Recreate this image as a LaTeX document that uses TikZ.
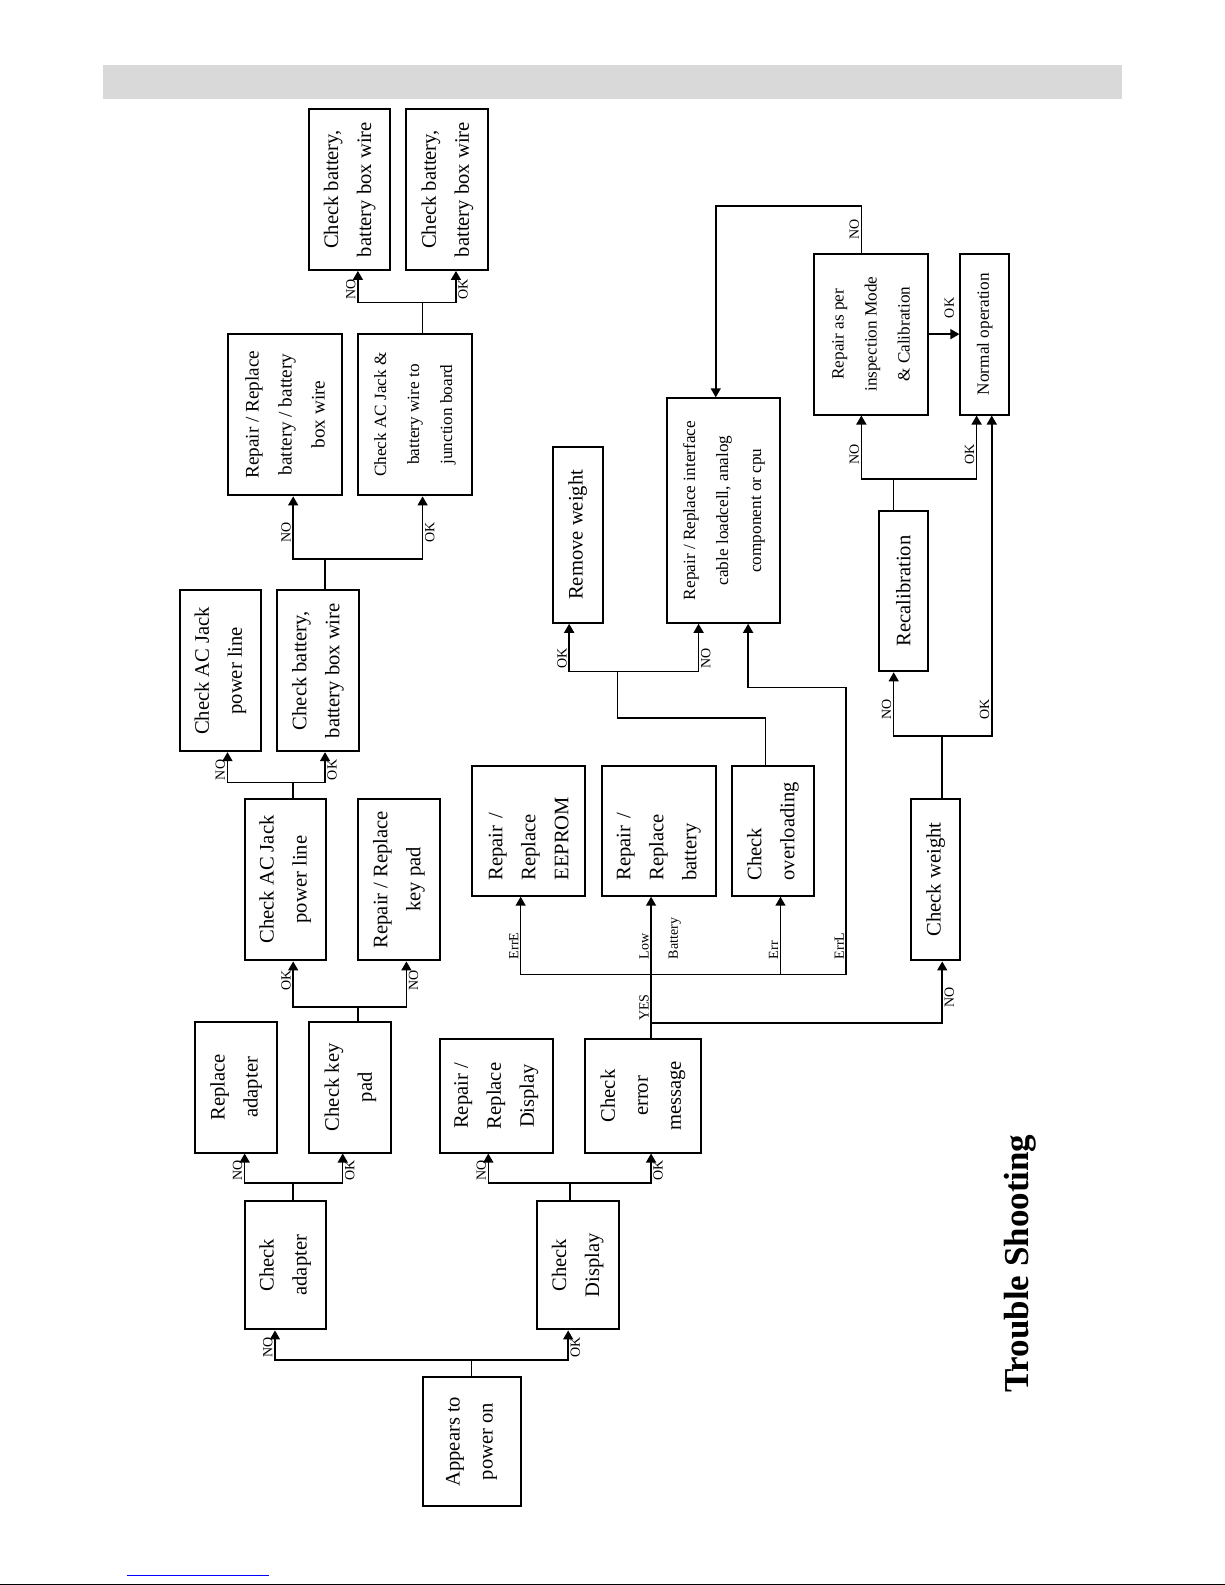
\documentclass[tikz,border=0pt]{standalone}
\usepackage{fontspec}
\setmainfont{Liberation Serif}
\usetikzlibrary{arrows.meta}
\newdimen\pxu
\pxu=0.5055pt

\begin{document}
\begin{tikzpicture}[x=\pxu, y=-\pxu,
    box/.style={draw, line width=1pt, rotate=90, inner sep=0pt, align=center,
      font=\fontsize{10.3}{16.5}\selectfont},
    bsize/.style 2 args={minimum width=#1\pxu, minimum height=#2\pxu},
    mid/.style={font=\fontsize{9.6}{16.5}\selectfont},
    small/.style={font=\fontsize{8.6}{16.5}\selectfont},
    flush/.style={align=left, text width=#1\pxu},
    link/.style={line width=0.75pt},
    arr/.style={link, -{Triangle[length=4.5pt, width=5pt]}},
    tag/.style={rotate=90, inner sep=1pt, font=\fontsize{7}{8}\selectfont}]

  \useasboundingbox (0,0) rectangle (1211.7,1567.8);
  \fill[gray!30] (102,64.5) rectangle (1110,97.5);
  \draw[blue, line width=0.5pt] (125.6,1558) -- (266,1558);
  \draw[line width=0.5pt] (0,1567) -- (1211.7,1567);

  \node[rotate=90, anchor=base, font=\fontsize{17.5}{20}\selectfont\bfseries] (title) at (1017,1250) {Trouble Shooting};

  \node[box, bsize={128}{97}] (pwr) at (466.5,1426) {Appears to\\power on};
  \node[box, bsize={127}{80}] (chkad) at (282,1251.5) {Check\\adapter};
  \node[box, bsize={127}{81}] (chkdisp) at (571.5,1251.5) {Check\\Display};
  \node[box, bsize={129}{81}] (repad) at (233.5,1075.5) {Replace\\adapter};
  \node[box, bsize={129}{81}] (chkkey) at (346.5,1075.5) {Check key\\pad};
  \node[box, bsize={112}{112}] (repdisp) at (491,1084) {Repair /\\Replace\\Display};
  \node[box, bsize={112}{114}] (chkerr) at (636,1084) {Check\\error\\message};
  \node[box, bsize={160}{80}] (chkac1) at (282,870) {Check AC Jack\\power line};
  \node[box, bsize={160}{81}] (repkey) at (394.5,870) {Repair / Replace\\key pad};
  \node[box, bsize={159}{80}] (chkac2) at (218,663.5) {Check AC Jack\\power line};
  \node[box, bsize={159}{81}] (chkbat1) at (314.5,663.5) {Check battery,\\battery box wire};
  \node[box, mid, bsize={160}{112}] (repbat) at (282,410) {Repair / Replace\\battery / battery\\box wire};
  \node[box, small, bsize={160}{113}] (chkjb) at (410.5,410) {Check AC Jack \&\\battery wire to\\junction board};
  \node[box, bsize={159}{80}] (chkbat2) at (346,187.5) {Check battery,\\battery box wire};
  \node[box, bsize={159}{81}] (chkbat3) at (442.5,187.5) {Check battery,\\battery box wire};
  \node[box, flush=98, bsize={128}{112}] (reprom) at (523,822) {Repair /\\Replace\\EEPROM};
  \node[box, flush=98, bsize={128}{113}] (repbatt) at (651.5,822) {Repair /\\Replace\\battery};
  \node[box, flush=98, bsize={128}{81}] (chkovl) at (764.5,822) {Check\\overloading};
  \node[box, bsize={174}{49}] (remw) at (571.5,529) {Remove weight};
  \node[box, small, bsize={222}{112}] (repif) at (716,505) {Repair / Replace interface\\cable loadcell, analog\\component or cpu};
  \node[box, bsize={160}{49}] (chkw) at (925.5,870) {Check weight};
  \node[box, bsize={159}{49}] (recal) at (893.5,584.5) {Recalibration};
  \node[box, small, bsize={159}{113}] (repcal) at (861.5,330.5) {Repair as per\\inspection Mode\\\& Calibration};
  \node[box, small, bsize={159}{48}] (normal) at (974,330.5) {Normal operation};

  \coordinate (ja) at (466.5,1345);
  \coordinate (na) at (272,1345);
  \coordinate (oa) at (562,1345);
  \draw[arr] (pwr.east) -- (ja) -| (na |- chkad.west);
  \draw[arr] (ja) -| (oa |- chkdisp.west);
  \node[tag, anchor=south west] (ta1) at (na) {NO};
  \node[tag, anchor=north west] (ta2) at (oa) {OK};

  \coordinate (jb) at (290,1170);
  \coordinate (nb) at (242,1170);
  \coordinate (ob) at (339,1170);
  \draw[arr] (jb |- chkad.east) -- (jb) -| (nb |- repad.west);
  \draw[arr] (jb) -| (ob |- chkkey.west);
  \node[tag, anchor=south west] (tb1) at (nb) {NO};
  \node[tag, anchor=north west] (tb2) at (ob) {OK};

  \coordinate (jc) at (564,1170);
  \coordinate (nc) at (483,1170);
  \coordinate (oc) at (644,1170);
  \draw[arr] (jc |- chkdisp.east) -- (jc) -| (nc |- repdisp.west);
  \draw[arr] (jc) -| (oc |- chkerr.west);
  \node[tag, anchor=south west] (tc1) at (nc) {NO};
  \node[tag, anchor=north west] (tc2) at (oc) {OK};

  \coordinate (jd) at (354,996);
  \coordinate (od) at (290,996);
  \coordinate (nd) at (402,996);
  \draw[arr] (jd |- chkkey.east) -- (jd) -| (od |- chkac1.west);
  \draw[arr] (jd) -| (nd |- repkey.west);
  \node[tag, anchor=south west] (td1) at (290,982) {OK};
  \node[tag, anchor=north west] (td2) at (402,982) {NO};

  \coordinate (je) at (290,774);
  \coordinate (ne) at (225,774);
  \coordinate (oe) at (321.5,774);
  \draw[arr] (je |- chkac1.east) -- (je) -| (ne |- chkac2.west);
  \draw[arr] (je) -| (oe |- chkbat1.west);
  \node[tag, anchor=south west] (te1) at (ne) {NO};
  \node[tag, anchor=north west] (te2) at (oe) {OK};

  \coordinate (jf) at (321.5,553);
  \coordinate (nf) at (290,553);
  \coordinate (of) at (418,553);
  \draw[arr] (jf |- chkbat1.east) -- (jf) -| (nf |- repbat.west);
  \draw[arr] (jf) -| (of |- chkjb.west);
  \node[tag, anchor=south west] (tf1) at (290,539) {NO};
  \node[tag, anchor=north west] (tf2) at (418,539) {OK};

  \coordinate (jg) at (418,299);
  \coordinate (ng) at (354,299);
  \coordinate (og) at (451,299);
  \draw[arr] (jg |- chkjb.east) -- (jg) -| (ng |- chkbat2.west);
  \draw[arr] (jg) -| (og |- chkbat3.west);
  \node[tag, anchor=south west] (tg1) at (ng) {NO};
  \node[tag, anchor=north west] (tg2) at (og) {OK};

  \coordinate (jh) at (644,1012);
  \coordinate (nh) at (932,1012);
  \coordinate (ei) at (515,964);
  \coordinate (vi) at (772,964);
  \coordinate (li) at (837,964);
  \coordinate (ki) at (837,680);
  \coordinate (mi) at (740,680);
  \draw[arr] (jh |- chkerr.east) -- (jh |- repbatt.west);
  \draw[arr] (jh) -| (nh |- chkw.west);
  \draw[arr] (li) -- (ei) -- (ei |- reprom.west);
  \draw[arr] (vi) -- (vi |- chkovl.west);
  \draw[arr] (li) -- (ki) -- (mi) -- (mi |- repif.west);
  \node[tag, anchor=south west] (th1) at (jh) {YES};
  \node[tag, anchor=north west] (th2) at (932,999) {NO};
  \node[tag, anchor=south west] (ti1) at (515,951) {ErrE};
  \node[tag, anchor=south west] (ti2) at (644,951) {Low};
  \node[tag, anchor=north west] (ti3) at (659,951) {Battery};
  \node[tag, anchor=south west] (ti4) at (772,951) {Err};
  \node[tag, anchor=south west] (ti5) at (837,951) {ErrL};

  \coordinate (pj) at (757,710);
  \coordinate (qj) at (611,710);
  \coordinate (jj) at (611,664);
  \coordinate (oj) at (563,664);
  \coordinate (nj) at (691,664);
  \draw[arr] (pj |- chkovl.east) -- (pj) -- (qj) -- (jj) -| (oj |- remw.west);
  \draw[arr] (jj) -| (nj |- repif.west);
  \node[tag, anchor=south west] (tj1) at (oj) {OK};
  \node[tag, anchor=north west] (tj2) at (nj) {NO};

  \coordinate (jk) at (932,728);
  \coordinate (nk) at (884,728);
  \coordinate (ok) at (981,728);
  \draw[arr] (jk |- chkw.east) -- (jk) -| (nk |- recal.west);
  \draw[arr] (jk) -| (ok |- normal.west);
  \node[tag, anchor=south west] (tk1) at (884,714) {NO};
  \node[tag, anchor=south west] (tk2) at (981,714) {OK};

  \coordinate (jl) at (884,474);
  \coordinate (nl) at (852,474);
  \coordinate (ol) at (966,474);
  \draw[arr] (jl |- recal.east) -- (jl) -| (nl |- repcal.west);
  \draw[arr] (jl) -| (ol |- normal.west);
  \node[tag, anchor=south west] (tl1) at (852,462) {NO};
  \node[tag, anchor=south west] (tl2) at (966,462) {OK};

  \coordinate (tn) at (852,204);
  \coordinate (un) at (708,204);
  \draw[arr] (tn |- repcal.east) -- (tn) -- (un) -- (un |- repif.east);
  \draw[arr] (repcal.south) -- (normal.north);
  \node[tag, anchor=south west] (tm1) at (946,317) {OK};
  \node[tag, anchor=south west] (tn1) at (852,239) {NO};

\end{tikzpicture}
\end{document}
